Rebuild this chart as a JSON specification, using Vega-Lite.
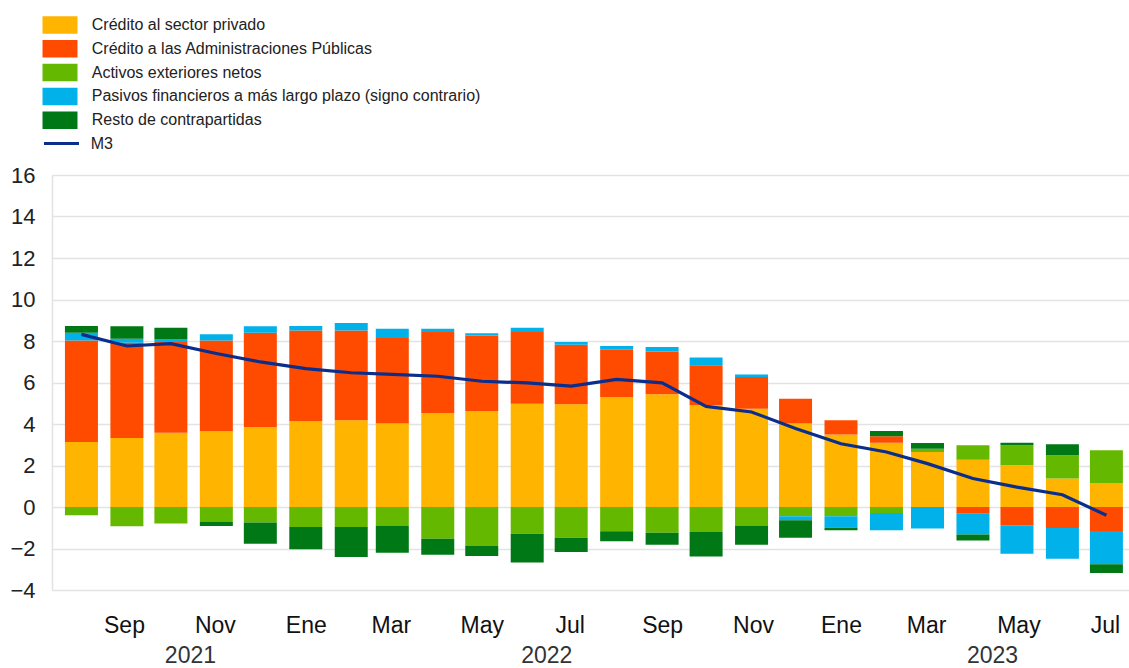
{
  "$schema": "https://vega.github.io/schema/vega-lite/v6.json",
  "width": 1077,
  "height": 415,
  "autosize": "none",
  "padding": {"left": 52, "top": 175, "right": 0, "bottom": 78},
  "background": "white",
  "config": {
    "view": {"stroke": null},
    "font": "Liberation Sans"
  },
  "data": {
    "values": [
      {"mes": "2021-08-16", "priv": 3.13, "gov": 4.90, "ext": -0.40, "lt": 0.37, "rest": 0.32, "m3": 8.32},
      {"mes": "2021-09-16", "priv": 3.33, "gov": 4.59, "ext": -0.93, "lt": 0.19, "rest": 0.60, "m3": 7.76},
      {"mes": "2021-10-16", "priv": 3.58, "gov": 4.37, "ext": -0.80, "lt": 0.12, "rest": 0.57, "m3": 7.87},
      {"mes": "2021-11-16", "priv": 3.65, "gov": 4.38, "ext": -0.72, "lt": 0.29, "rest": -0.20, "m3": 7.40},
      {"mes": "2021-12-16", "priv": 3.86, "gov": 4.54, "ext": -0.75, "lt": 0.31, "rest": -1.02, "m3": 6.99},
      {"mes": "2022-01-16", "priv": 4.13, "gov": 4.38, "ext": -0.96, "lt": 0.21, "rest": -1.08, "m3": 6.67},
      {"mes": "2022-02-16", "priv": 4.18, "gov": 4.33, "ext": -0.96, "lt": 0.36, "rest": -1.45, "m3": 6.47},
      {"mes": "2022-03-16", "priv": 4.02, "gov": 4.12, "ext": -0.92, "lt": 0.45, "rest": -1.28, "m3": 6.39},
      {"mes": "2022-04-16", "priv": 4.53, "gov": 3.90, "ext": -1.53, "lt": 0.16, "rest": -0.77, "m3": 6.30},
      {"mes": "2022-05-16", "priv": 4.63, "gov": 3.64, "ext": -1.88, "lt": 0.10, "rest": -0.48, "m3": 6.06},
      {"mes": "2022-06-16", "priv": 4.98, "gov": 3.45, "ext": -1.29, "lt": 0.21, "rest": -1.39, "m3": 5.98},
      {"mes": "2022-07-16", "priv": 4.95, "gov": 2.87, "ext": -1.48, "lt": 0.13, "rest": -0.69, "m3": 5.83},
      {"mes": "2022-08-16", "priv": 5.30, "gov": 2.28, "ext": -1.17, "lt": 0.18, "rest": -0.48, "m3": 6.15},
      {"mes": "2022-09-16", "priv": 5.43, "gov": 2.07, "ext": -1.24, "lt": 0.21, "rest": -0.58, "m3": 5.98},
      {"mes": "2022-10-16", "priv": 4.90, "gov": 1.93, "ext": -1.20, "lt": 0.37, "rest": -1.18, "m3": 4.85},
      {"mes": "2022-11-16", "priv": 4.74, "gov": 1.53, "ext": -0.92, "lt": 0.11, "rest": -0.90, "m3": 4.58},
      {"mes": "2022-12-16", "priv": 4.02, "gov": 1.20, "ext": -0.45, "lt": -0.19, "rest": -0.84, "m3": 3.78},
      {"mes": "2023-01-16", "priv": 3.50, "gov": 0.68, "ext": -0.45, "lt": -0.55, "rest": -0.12, "m3": 3.05},
      {"mes": "2023-02-16", "priv": 3.10, "gov": 0.31, "ext": -0.29, "lt": -0.83, "rest": 0.25, "m3": 2.65},
      {"mes": "2023-03-16", "priv": 2.65, "gov": 0.00, "ext": 0.16, "lt": -1.04, "rest": 0.27, "m3": 2.09},
      {"mes": "2023-04-16", "priv": 2.28, "gov": -0.32, "ext": 0.69, "lt": -1.00, "rest": -0.29, "m3": 1.37},
      {"mes": "2023-05-16", "priv": 2.01, "gov": -0.88, "ext": 0.96, "lt": -1.37, "rest": 0.13, "m3": 0.96},
      {"mes": "2023-06-16", "priv": 1.37, "gov": -1.01, "ext": 1.12, "lt": -1.48, "rest": 0.53, "m3": 0.59},
      {"mes": "2023-07-16", "priv": 1.16, "gov": -1.16, "ext": 1.57, "lt": -1.60, "rest": -0.42, "m3": -0.40}
    ]
  },
  "resolve": {"axis": {"x": "independent"}},
  "layer": [
    {
      "transform": [
        {"fold": ["priv", "gov", "ext", "lt", "rest"], "as": ["serie", "valor"]},
        {"calculate": "indexof(['priv','gov','ext','lt','rest'], datum.serie)", "as": "orden"}
      ],
      "mark": {"type": "bar", "size": 33},
      "encoding": {
        "x": {
          "field": "mes",
          "type": "temporal",
          "scale": {
            "type": "utc",
            "domain": [
              {"year": 2021, "month": 7, "date": 30, "hours": 8, "utc": true},
              {"year": 2023, "month": 7, "date": 28, "utc": true}
            ]
          },
          "axis": {
            "orient": "bottom",
            "title": null,
            "grid": false,
            "domain": false,
            "ticks": false,
            "tickSize": 0,
            "labelPadding": 24,
            "labelFontSize": 23,
            "labelColor": "#111111",
            "labelOverlap": false,
            "labelFlush": false,
            "values": [
              {"year": 2021, "month": 9, "date": 14, "utc": true},
              {"year": 2021, "month": 11, "date": 15, "utc": true},
              {"year": 2022, "month": 1, "date": 16, "utc": true},
              {"year": 2022, "month": 3, "date": 15, "utc": true},
              {"year": 2022, "month": 5, "date": 16, "utc": true},
              {"year": 2022, "month": 7, "date": 15, "utc": true},
              {"year": 2022, "month": 9, "date": 16, "utc": true},
              {"year": 2022, "month": 11, "date": 17, "utc": true},
              {"year": 2023, "month": 1, "date": 16, "utc": true},
              {"year": 2023, "month": 3, "date": 15, "utc": true},
              {"year": 2023, "month": 5, "date": 17, "utc": true},
              {"year": 2023, "month": 7, "date": 15, "utc": true}
            ],
            "labelExpr": "['Ene','Feb','Mar','Abr','May','Jun','Jul','Ago','Sep','Oct','Nov','Dic'][utcmonth(datum.value)]"
          }
        },
        "y": {
          "field": "valor",
          "type": "quantitative",
          "stack": "zero",
          "scale": {"domain": [-4, 16], "nice": false, "zero": false},
          "axis": {
            "title": null,
            "values": [-4, -2, 0, 2, 4, 6, 8, 10, 12, 14, 16],
            "grid": true,
            "gridColor": "#e3e3e3",
            "gridWidth": 1.6,
            "domain": true,
            "domainColor": "#e3e3e3",
            "domainWidth": 1.6,
            "ticks": false,
            "tickSize": 0,
            "labelPadding": 17,
            "labelFontSize": 22,
            "labelColor": "#222222"
          }
        },
        "color": {
          "field": "serie",
          "type": "nominal",
          "scale": {
            "domain": ["priv", "gov", "ext", "lt", "rest"],
            "range": ["#FFB400", "#FF4B00", "#65B800", "#00B1EA", "#007816"]
          },
          "legend": {
            "orient": "none",
            "legendX": -1,
            "legendY": -159,
            "title": null,
            "symbolType": "M-2,-1H2V1H-2Z",
            "symbolSize": 306,
            "symbolOpacity": 1,
            "symbolStrokeWidth": 0,
            "labelFontSize": 16,
            "labelColor": "#222222",
            "labelOffset": 22.75,
            "rowPadding": 5.8,
            "labelLimit": 600,
            "labelExpr": "{'priv':'Crédito al sector privado','gov':'Crédito a las Administraciones Públicas','ext':'Activos exteriores netos','lt':'Pasivos financieros a más largo plazo (signo contrario)','rest':'Resto de contrapartidas'}[datum.label]"
          }
        },
        "order": {"field": "orden", "type": "quantitative"}
      }
    },
    {
      "mark": {"type": "line", "strokeWidth": 3.2},
      "encoding": {
        "x": {
          "field": "mes",
          "type": "temporal",
          "axis": {
            "orient": "bottom",
            "title": null,
            "grid": false,
            "domain": false,
            "ticks": false,
            "tickSize": 0,
            "labelPadding": 54,
            "labelFontSize": 23,
            "labelColor": "#333333",
            "labelOverlap": false,
            "labelFlush": false,
            "values": [
              {"year": 2021, "month": 10, "date": 29, "utc": true},
              {"year": 2022, "month": 6, "date": 29, "utc": true},
              {"year": 2023, "month": 4, "date": 29, "utc": true}
            ],
            "labelExpr": "utcFormat(datum.value, '%Y')"
          }
        },
        "y": {"field": "m3", "type": "quantitative", "title": null},
        "stroke": {
          "datum": "M3",
          "type": "nominal",
          "scale": {"range": ["#0b2d8c"]},
          "legend": {
            "orient": "none",
            "legendX": -1,
            "legendY": -42,
            "title": null,
            "symbolType": "M-2,0H2",
            "symbolSize": 306,
            "symbolStrokeWidth": 3,
            "labelFontSize": 16,
            "labelColor": "#222222",
            "labelOffset": 18.75
          }
        }
      }
    }
  ]
}
